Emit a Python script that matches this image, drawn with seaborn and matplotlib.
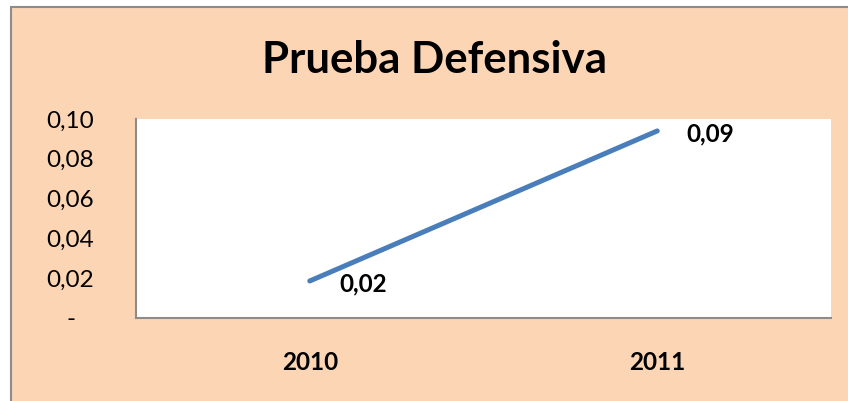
import matplotlib
matplotlib.use("Agg")
import matplotlib.pyplot as plt
import seaborn as sns
import pandas as pd
from matplotlib.patches import Rectangle

# data
years = ["2010", "2011"]
values = [0.0186, 0.094]
yticks = [0, 0.02, 0.04, 0.06, 0.08, 0.10]
ytick_labels = ["-   ", "0,02", "0,04", "0,06", "0,08", "0,10"]

df = pd.DataFrame({"Year": years, "Value": values})

sns.set_style("white")
plt.rcParams["font.family"] = ["Lato", "DejaVu Sans"]
plt.rcParams["text.color"] = "black"
plt.rcParams["xtick.color"] = "black"
plt.rcParams["ytick.color"] = "black"

peach = "#FCD5B5"
fig = plt.figure(figsize=(8.48, 4.01), dpi=100, facecolor="white")
# chart area background with grey border
fig.patches.append(Rectangle((11 / 848, -0.05), 1.1, 1 - 7 / 401 + 0.05,
                             transform=fig.transFigure, facecolor=peach,
                             edgecolor="#8C8C8C", linewidth=1.5, zorder=-1))

ax = fig.add_axes([136 / 848, 1 - 318 / 401, (831 - 136) / 848, (318 - 119) / 401])
ax.set_facecolor("white")

sns.lineplot(data=df, x="Year", y="Value", ax=ax, color="#4A7EBB",
             linewidth=3.6, solid_capstyle="round")

ax.set_xlim(-0.5, 1.5)
ax.set_ylim(0, 0.10)
ax.set_yticks(yticks)
ax.set_yticklabels(ytick_labels, fontsize=17.5)
ax.set_xlabel("")
ax.set_ylabel("")
ax.tick_params(axis="y", length=0, pad=30)
ax.tick_params(axis="x", length=0, pad=24)
for lbl in ax.get_xticklabels():
    lbl.set_fontweight("bold")
    lbl.set_fontsize(17.5)

for s in ["top", "right"]:
    ax.spines[s].set_visible(False)
for s in ["left", "bottom"]:
    ax.spines[s].set_color("#8C8C8C")
    ax.spines[s].set_linewidth(1.5)

# data labels
for i, v in enumerate(values):
    ax.annotate(f"{v:.2f}".replace(".", ","), (i, v), xytext=(21, -2),
                textcoords="offset points", ha="left", va="center",
                fontsize=17.5, fontweight="bold")

fig.text(435 / 848, 1 - 60 / 401, "Prueba Defensiva", ha="center", va="center",
         fontsize=31.5, fontweight="bold")

fig.savefig("out.png", dpi=100, facecolor="white")
